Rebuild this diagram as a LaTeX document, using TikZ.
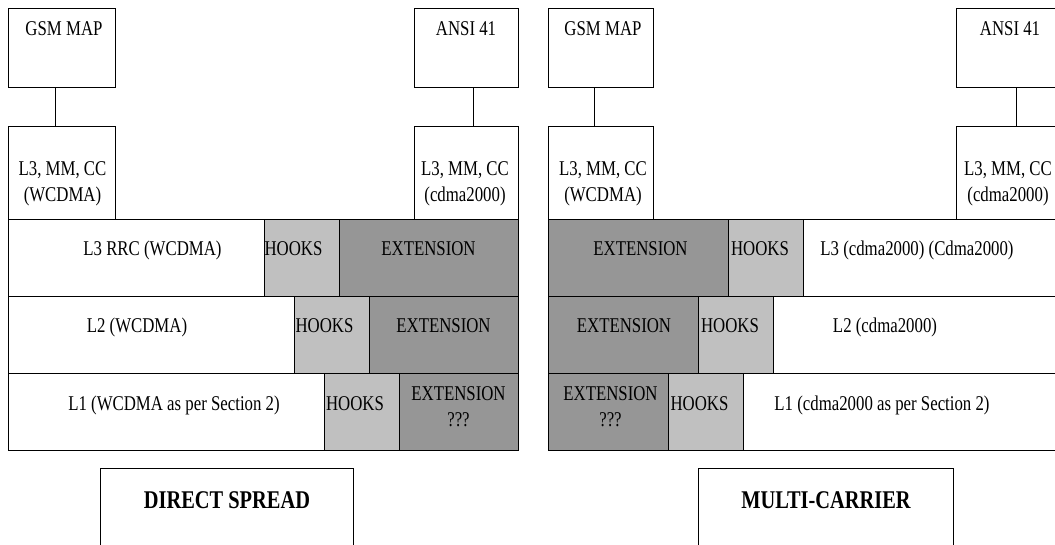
\documentclass[tikz,border=0pt]{standalone}
\usepackage{fontspec}
\setmainfont{Liberation Serif}[FakeStretch=0.8]
\definecolor{hookgray}{HTML}{C0C0C0}
\definecolor{extgray}{HTML}{969696}
\tikzset{
  cell/.style={draw=black, line width=1pt, fill=white, inner sep=0pt, outer sep=0pt, anchor=north west},
  hookcell/.style={cell, fill=hookgray},
  extcell/.style={cell, fill=extgray},
  txt/.style={inner sep=0pt, outer sep=0pt, font=\fontsize{21}{25}\selectfont, text height=13.9pt, text depth=0pt, anchor=center},
  mltxt/.style={inner sep=0pt, outer sep=0pt, font=\fontsize{21}{25.5}\selectfont, align=center, anchor=north},
  hooktxt/.style={txt, anchor=west},
  bigtxt/.style={inner sep=0pt, outer sep=0pt, font=\fontsize{25.5}{30}\selectfont\bfseries, text height=16.9pt, text depth=0pt, anchor=center},
  link/.style={draw=black, line width=1pt}
}
\begin{document}
\begin{tikzpicture}[x=1pt,y=-1pt]
\useasboundingbox (0,0) rectangle (1055,544);
\clip (0,0) rectangle (1055,544);
\fill[white] (0,0) rectangle (1055,544);

% ---------------- left panel (DIRECT SPREAD) ----------------
\node[cell, minimum width=107pt, minimum height=79pt] (gsmL) at (8,8) {};
\node[cell, minimum width=107pt, minimum height=93pt] (mmL) at (8,126) {};
\node[cell, minimum width=104pt, minimum height=79pt] (ansiL) at (414,8) {};
\node[cell, minimum width=104pt, minimum height=93pt] (mmcL) at (414,126) {};
\draw[link] ([xshift=-6.5pt]gsmL.south) -- ([xshift=-6.5pt]mmL.north);
\draw[link] ([xshift=7pt]ansiL.south) -- ([xshift=7pt]mmcL.north);

\node[txt] (tgsmL) at (64,29) {GSM MAP};
\node[mltxt] (tmmL) at (62.5,162) {L3, MM, CC\\(WCDMA)};
\node[txt] (tansiL) at (466,29) {ANSI 41};
\node[mltxt] (tmmcL) at (465,162) {L3, MM, CC\\(cdma2000)};

\node[cell, minimum width=256pt, minimum height=77pt] (wL1) at (8,219) {};
\node[hookcell, minimum width=75pt, minimum height=77pt] (hkL1) at (264,219) {};
\node[extcell, minimum width=179pt, minimum height=77pt] (exL1) at (339,219) {};
\node[cell, minimum width=286pt, minimum height=77pt] (wL2) at (8,296) {};
\node[hookcell, minimum width=75pt, minimum height=77pt] (hkL2) at (294,296) {};
\node[extcell, minimum width=149pt, minimum height=77pt] (exL2) at (369,296) {};
\node[cell, minimum width=316pt, minimum height=77pt] (wL3) at (8,373) {};
\node[hookcell, minimum width=75pt, minimum height=77pt] (hkL3) at (324,373) {};
\node[extcell, minimum width=119pt, minimum height=77pt] (exL3) at (399,373) {};

\node[txt] (twL1) at (152.5,249) {L3 RRC (WCDMA)};
\node[hooktxt] (thkL1) at (264.5,249) {HOOKS};
\node[txt] (texL1) at (428.5,249) {EXTENSION};
\node[txt] (twL2) at (137,326) {L2 (WCDMA)};
\node[hooktxt] (thkL2) at (295.5,326) {HOOKS};
\node[txt] (texL2) at (443.5,326) {EXTENSION};
\node[txt] (twL3) at (174,404) {L1 (WCDMA as per Section 2)};
\node[hooktxt] (thkL3) at (326,404) {HOOKS};
\node[mltxt] (texL3) at (458.5,387) {EXTENSION\\???};

\node[cell, minimum width=253pt, minimum height=100pt] (ds) at (100,468) {};
\node[bigtxt] (tds) at (227,500) {DIRECT SPREAD};

% ---------------- right panel (MULTI-CARRIER) ----------------
\node[cell, minimum width=105pt, minimum height=79pt] (gsmR) at (548,8) {};
\node[cell, minimum width=105pt, minimum height=93pt] (mmR) at (548,126) {};
\node[cell, minimum width=107pt, minimum height=79pt] (ansiR) at (956,8) {};
\node[cell, minimum width=107pt, minimum height=93pt] (mmcR) at (956,126) {};
\draw[link] ([xshift=-6.5pt]gsmR.south) -- ([xshift=-6.5pt]mmR.north);
\draw[link] ([xshift=7pt]ansiR.south) -- ([xshift=7pt]mmcR.north);

\node[txt] (tgsmR) at (603,29) {GSM MAP};
\node[mltxt] (tmmR) at (603,162) {L3, MM, CC\\(WCDMA)};
\node[txt] (tansiR) at (1010,29) {ANSI 41};
\node[mltxt] (tmmcR) at (1008,162) {L3, MM, CC\\(cdma2000)};

\node[extcell, minimum width=180pt, minimum height=77pt] (exR1) at (548,219) {};
\node[hookcell, minimum width=75pt, minimum height=77pt] (hkR1) at (728,219) {};
\node[cell, minimum width=256pt, minimum height=77pt] (wR1) at (803,219) {};
\node[extcell, minimum width=150pt, minimum height=77pt] (exR2) at (548,296) {};
\node[hookcell, minimum width=75pt, minimum height=77pt] (hkR2) at (698,296) {};
\node[cell, minimum width=286pt, minimum height=77pt] (wR2) at (773,296) {};
\node[extcell, minimum width=120pt, minimum height=77pt] (exR3) at (548,373) {};
\node[hookcell, minimum width=75pt, minimum height=77pt] (hkR3) at (668,373) {};
\node[cell, minimum width=316pt, minimum height=77pt] (wR3) at (743,373) {};

\node[txt] (texR1) at (640.5,249) {EXTENSION};
\node[hooktxt] (thkR1) at (731,249) {HOOKS};
\node[txt] (twR1) at (917,249) {L3 (cdma2000) (Cdma2000)};
\node[txt] (texR2) at (624,326) {EXTENSION};
\node[hooktxt] (thkR2) at (701,326) {HOOKS};
\node[txt] (twR2) at (885,326) {L2 (cdma2000)};
\node[mltxt] (texR3) at (610.5,387) {EXTENSION\\???};
\node[hooktxt] (thkR3) at (670.5,404) {HOOKS};
\node[txt] (twR3) at (882,404) {L1 (cdma2000 as per Section 2)};

\node[cell, minimum width=255pt, minimum height=100pt] (mc) at (698,468) {};
\node[bigtxt] (tmc) at (826,500) {MULTI-CARRIER};
\end{tikzpicture}
\end{document}
